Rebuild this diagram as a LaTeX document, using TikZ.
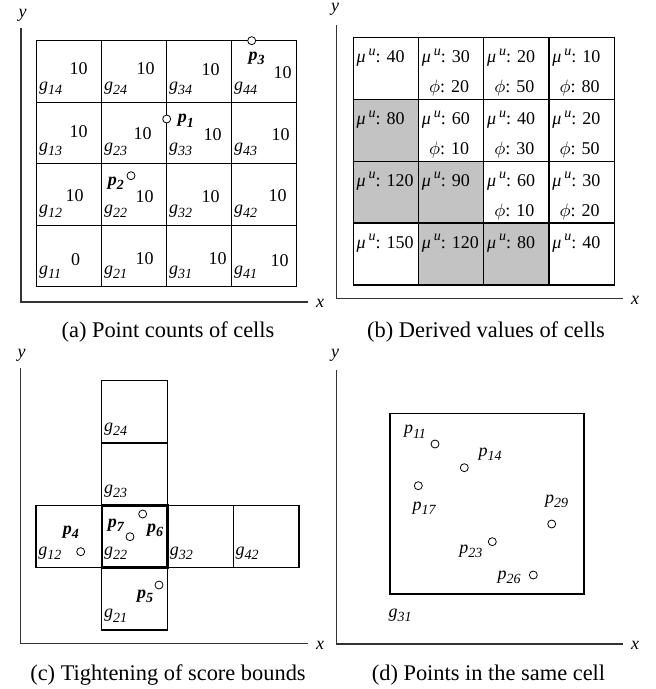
\documentclass[tikz,border=0pt]{standalone}
\usepackage{fontspec}
\setmainfont{Liberation Serif}

\definecolor{cellgray}{RGB}{195,195,195}
\newcommand{\gcell}[1]{\textit{g}\raisebox{-0.5ex}{\fontsize{7}{8}\selectfont\itshape #1}}
\newcommand{\ptb}[1]{\textbf{\textit{p}\raisebox{-0.5ex}{\fontsize{7}{8}\selectfont\itshape #1}}}
\newcommand{\pti}[1]{\textit{p}\raisebox{-0.5ex}{\fontsize{7}{8}\selectfont\itshape #1}}
\newcommand{\muu}{\textit{μ}\,\raisebox{0.9ex}{\fontsize{7}{8}\selectfont\itshape u}}
\newcommand{\phiv}{$\phi$}

\tikzset{
  cellbox/.style={draw=black, line width=0.6pt},
  axisline/.style={draw=black!80, line width=0.6pt},
  axislabel/.style={inner sep=0pt, font=\fontsize{9}{10}\selectfont\itshape},
  glabel/.style={anchor=base west, inner sep=0pt, font=\fontsize{9}{10}\selectfont},
  vlabel/.style={inner sep=0pt, font=\fontsize{9}{10}\selectfont},
  dot/.style={circle, draw, fill=white, line width=0.4pt, inner sep=0pt, minimum size=4pt},
  caption/.style={font=\fontsize{11.2}{13}\selectfont}
}

\begin{document}
\begin{tikzpicture}[x=0.5pt, y=-0.5pt]
  \useasboundingbox (0,0) rectangle (656,689);

  % (a) Axes.
  \coordinate (a-o) at (21,302);
  \coordinate (a-top) at (21,28);
  \coordinate (a-end) at (308,302);
  \draw[axisline] (a-top) -- (a-o) -- (a-end);
  \node[axislabel] (a-y) at (22.7,15) {y};
  \node[axislabel] (a-x) at (320,303) {x};
  % Grid with point counts: col/row/count/dx/dy.
  \foreach \i/\j/\v/\dx/\dy in {1/4/10/42/28, 2/4/10/44/28, 3/4/10/44/29, 4/4/10/51/32,
                                1/3/10/42/29, 2/3/10/41/31, 3/3/10/46/32, 4/3/10/49/32,
                                1/2/10/38/32, 2/2/10/43/33, 3/2/10/44/33, 4/2/10/46/32,
                                1/1/0/39/34,  2/1/10/43/33, 3/1/10/51/33, 4/1/10/48/35} {
    \draw[cellbox] ({36.7+65*(\i-1)},{286.7-61.5*(\j-1)}) rectangle ++(65,-61.5);
    \node[glabel] (a-g\i\j) at ({36.7+65*(\i-1)+2},{286.7-61.5*(\j-1)-12}) {\gcell{\i\j}};
    \node[vlabel] (a-v\i\j) at ({36.7+65*(\i-1)+\dx},{286.7-61.5*\j+\dy}) {\v};
  }
  % Points.
  \node[dot] (a-p1) at (166.7,119) {};
  \node[vlabel] (a-l1) at (185.8,120.8) {\ptb{1}};
  \node[dot] (a-p2) at (131,175.7) {};
  \node[vlabel] (a-l2) at (115.8,183.3) {\ptb{2}};
  \node[dot] (a-p3) at (251.7,40.7) {};
  \node[vlabel] (a-l3) at (256.7,58.3) {\ptb{3}};
  \node[caption] (a-cap) at (168,332) {(a) Point counts of cells};

  % (b) Axes.
  \coordinate (b-o) at (336.7,298.3);
  \coordinate (b-top) at (336.7,25);
  \coordinate (b-end) at (623.3,298.3);
  \draw[axisline] (b-top) -- (b-o) -- (b-end);
  \node[axislabel] (b-y) at (335,9) {y};
  \node[axislabel] (b-x) at (635,300) {x};
  % Upper bounds, grey cells are pruned: col/row/value/fill.
  \foreach \c/\r/\m/\col in {1/1/40/white, 2/1/30/white, 3/1/20/white, 4/1/10/white,
                             1/2/80/cellgray, 2/2/60/white, 3/2/40/white, 4/2/20/white,
                             1/3/120/cellgray, 2/3/90/cellgray, 3/3/60/white, 4/3/30/white,
                             1/4/150/white, 2/4/120/cellgray, 3/4/80/cellgray, 4/4/40/white} {
    \draw[cellbox, fill=\col] ({353.3+65.2*(\c-1)},{37.7+61.8*(\r-1)}) rectangle ++(65.2,61.8);
    \node[vlabel, anchor=base west] (b-m\c\r) at ({353.3+65.2*(\c-1)+3},{37.7+61.8*(\r-1)+25}) {\muu: \m};
  }
  \foreach \c/\r/\f in {2/1/20, 3/1/50, 4/1/80, 2/2/10, 3/2/30, 4/2/50, 3/3/10, 4/3/20}
    \node[vlabel, anchor=base] (b-f\c\r) at ({353.3+65.2*(\c-0.5)-2},{37.7+61.8*(\r-1)+55}) {\phiv: \f};
  \node[caption] (b-cap) at (486,332) {(b) Derived values of cells};

  % (c) Axes.
  \coordinate (c-o) at (20.7,643.3);
  \coordinate (c-top) at (20.7,368.3);
  \coordinate (c-end) at (308.3,643.3);
  \draw[axisline] (c-top) -- (c-o) -- (c-end);
  \node[axislabel] (c-y) at (21.7,355) {y};
  \node[axislabel] (c-x) at (320,645) {x};
  % Neighbour cells of g22: col/row from top/name.
  \foreach \c/\r/\n in {2/1/24, 2/2/23, 1/3/12, 3/3/32, 4/3/42, 2/4/21, 2/3/22} {
    \draw[cellbox] ({36+65.75*(\c-1)},{380.7+62.3*(\r-1)}) rectangle ++(65.75,62.3);
    \node[glabel] (c-g\n) at ({36+65.75*(\c-1)+2},{380.7+62.3*\r-12}) {\gcell{\n}};
  }
  \draw[cellbox, line width=1.2pt] (101.75,505.3) rectangle ++(65.75,62.3);
  % Points.
  \node[dot] (c-p4) at (80.7,551.7) {};
  \node[vlabel] (c-l4) at (70.8,532.5) {\ptb{4}};
  \node[dot] (c-p5) at (159,585) {};
  \node[vlabel] (c-l5) at (145,596.7) {\ptb{5}};
  \node[dot] (c-p6) at (142.7,514) {};
  \node[vlabel] (c-l6) at (155,530) {\ptb{6}};
  \node[dot] (c-p7) at (130,536.7) {};
  \node[vlabel] (c-l7) at (115.8,525) {\ptb{7}};
  \node[caption] (c-cap) at (168,675) {(c) Tightening of score bounds};

  % (d) Axes.
  \coordinate (d-o) at (336.7,644);
  \coordinate (d-top) at (336.7,370);
  \coordinate (d-end) at (623.3,644);
  \draw[axisline] (d-top) -- (d-o) -- (d-end);
  \node[axislabel] (d-y) at (335,355) {y};
  \node[axislabel] (d-x) at (635,645) {x};
  % Cell g31 and its points.
  \draw[cellbox] (390,413.3) rectangle (584,594);
  \node[vlabel] (d-g31) at (400,615) {\gcell{31}};
  \foreach \n/\px/\py/\lx/\ly in {11/435/444/415/431.7, 14/464.3/467.7/490/454,
                                  17/418.3/485.7/424.2/508.3, 23/492.3/541.7/470.8/551.7,
                                  26/533.3/575/509.2/577.5, 29/551.7/524/556.7/501.7} {
    \node[dot] (d-p\n) at (\px,\py) {};
    \node[vlabel] (d-l\n) at (\lx,\ly) {\pti{\n}};
  }
  \node[caption] (d-cap) at (488.5,675) {(d) Points in the same cell};
\end{tikzpicture}
\end{document}
